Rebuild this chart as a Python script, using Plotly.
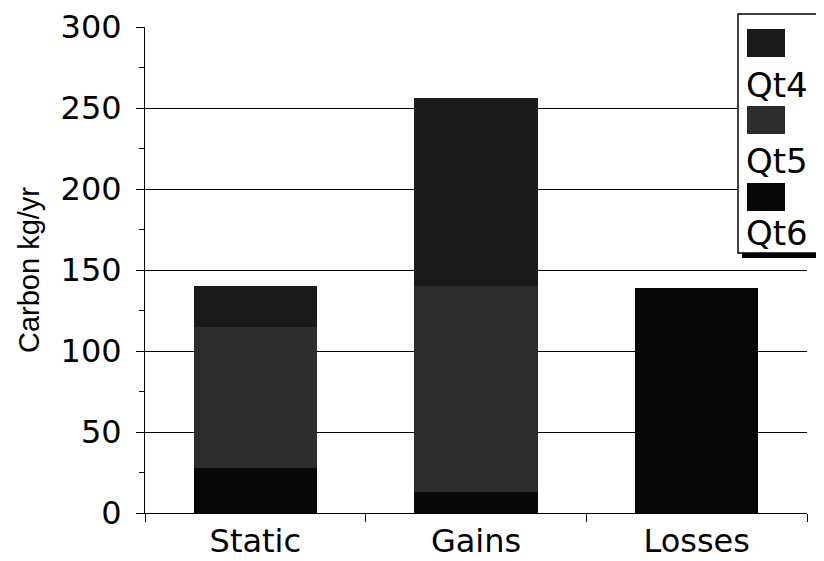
import plotly.graph_objects as go

categories = ["Static", "Gains", "Losses"]
series_names = ["Qt6", "Qt5", "Qt4"]          # stacking order, bottom to top
qt6 = [28, 13, 139]
qt5 = [87, 127, 0]
qt4 = [25, 116, 0]
series_values = [qt6, qt5, qt4]
series_colors = ["#070707", "#2c2c2c", "#1a1a1a"]
y_ticks = [0, 50, 100, 150, 200, 250, 300]

fig = go.Figure()
for name, vals, col in zip(series_names, series_values, series_colors):
    fig.add_trace(go.Bar(x=categories, y=vals, name=name, marker=dict(color=col, line=dict(width=0)),
                         width=0.56, showlegend=False))

# plot area in screenshot pixels (page body has an 8px margin)
OFF = 8
L, R, T, B = 145, 807, 27, 513
W, H = 824 - OFF, 561 - OFF
def px(x):
    return (x - L) / (R - L)
def py(y):
    return (B - y) / (B - T)

fig.update_layout(
    barmode="stack",
    width=W, height=H,
    margin=dict(l=L - OFF, r=(W + OFF) - R, t=T - OFF, b=(H + OFF) - B, autoexpand=False),
    plot_bgcolor="white", paper_bgcolor="white",
    font=dict(family="DejaVu Sans", color="black"),
    xaxis=dict(type="category", range=[-0.5, 2.5], tickson="boundaries", ticks="outside", ticklen=8,
               tickcolor="black", showline=True, linecolor="black", linewidth=1, showgrid=False,
               tickfont=dict(size=32, family="DejaVu Sans"), ticklabelstandoff=0, automargin=False),
    yaxis=dict(range=[0, 300], tickvals=y_ticks, ticks="outside", ticklen=8, tickcolor="black",
               showline=True, linecolor="black", linewidth=1, showgrid=True, gridcolor="black", gridwidth=1,
               tickfont=dict(size=32, family="DejaVu Sans"), ticklabelstandoff=8,
               minor=dict(dtick=25, ticks="outside", ticklen=5, tickcolor="black", showgrid=False),
               title=dict(text="Carbon kg/yr", font=dict(size=29, family="Liberation Sans"), standoff=12),
               zeroline=False, automargin=False),
    bargap=0.44,
)

# manual legend (swatch above label), top-to-bottom Qt4, Qt5, Qt6
shapes = []
annotations = []
shapes.append(dict(type="rect", xref="paper", yref="paper", x0=px(742), x1=px(840), y0=py(258), y1=py(19),
                   fillcolor="black", line=dict(width=0), layer="above"))
shapes.append(dict(type="rect", xref="paper", yref="paper", x0=px(738), x1=px(840), y0=py(253), y1=py(14),
                   fillcolor="white", line=dict(color="black", width=1.5), layer="above"))
legend_order = list(range(len(series_names)))[::-1]
swatch_tops = [29, 106, 183]
label_mid = [85, 161, 233]
for k, i in enumerate(legend_order):
    st = swatch_tops[k]
    shapes.append(dict(type="rect", xref="paper", yref="paper", x0=px(747), x1=px(785), y0=py(st + 28), y1=py(st),
                       fillcolor=series_colors[i], line=dict(width=0), layer="above"))
    annotations.append(dict(xref="paper", yref="paper", x=px(744), y=py(label_mid[k]), xanchor="left", yanchor="middle",
                            text=series_names[i], showarrow=False, font=dict(size=34, family="DejaVu Sans", color="black")))
fig.update_layout(shapes=shapes, annotations=annotations)

fig.write_html("out.html")
